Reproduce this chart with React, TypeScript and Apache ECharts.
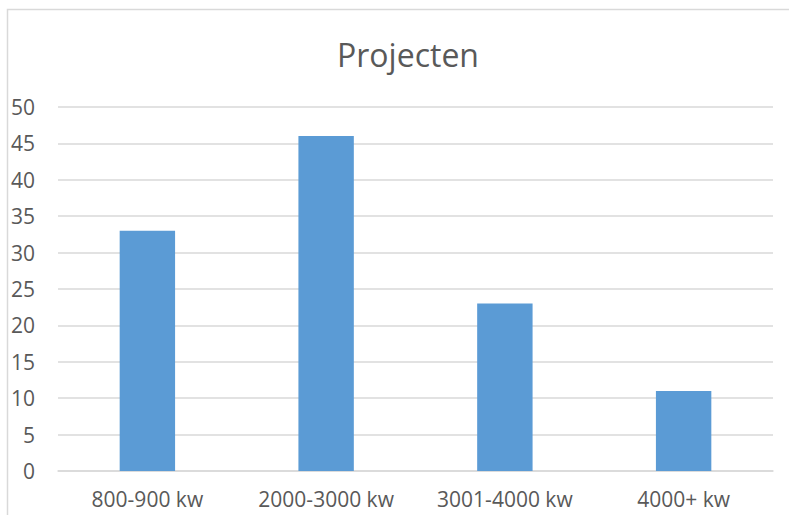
import React, { useEffect, useRef } from "react";
import * as echarts from "echarts";

const categories = ["800-900 kw", "2000-3000 kw", "3001-4000 kw", "4000+ kw"];
const values = [33, 46, 23, 11];
const titleText = "Projecten";

export default function App() {
  const ref = useRef<HTMLDivElement>(null);
  useEffect(() => {
    const chart = echarts.init(ref.current!, null, { renderer: "svg" });
    chart.setOption({
      animation: false,
      backgroundColor: "#ffffff",
      textStyle: { fontFamily: "Open Sans" },
      title: {
        text: titleText,
        left: 403,
        textAlign: "center",
        top: 33,
        textStyle: { fontSize: 32, fontWeight: "normal", color: "#595959", fontFamily: "Open Sans" },
      },
      graphic: [
        {
          type: "rect",
          shape: { x: 7.5, y: 9.5, width: 900, height: 700 },
          style: { fill: "none", stroke: "#d9d9d9", lineWidth: 1.5 },
          silent: true,
        },
      ],
      grid: { left: 58, right: 16, top: 107, bottom: 44, containLabel: false },
      xAxis: {
        type: "category",
        data: categories,
        axisLine: { show: true, lineStyle: { color: "#d9d9d9", width: 1.5 } },
        axisTick: { show: false },
        axisLabel: { color: "#595959", fontSize: 21, margin: 17, fontFamily: "Open Sans" },
      },
      yAxis: {
        type: "value",
        min: 0,
        max: 50,
        interval: 5,
        axisLine: { show: false },
        axisTick: { show: false },
        splitLine: { lineStyle: { color: "#d9d9d9", width: 1.5 } },
        axisLabel: { color: "#595959", fontSize: 21, margin: 23, fontFamily: "Open Sans" },
      },
      series: [
        {
          type: "bar",
          data: values,
          barWidth: "31%",
          itemStyle: { color: "#5b9bd5" },
        },
      ],
    });
    return () => chart.dispose();
  }, []);
  return (
    <div
      ref={ref}
      style={{ position: "absolute", left: 0, top: 0, width: 789, height: 515 }}
    />
  );
}
